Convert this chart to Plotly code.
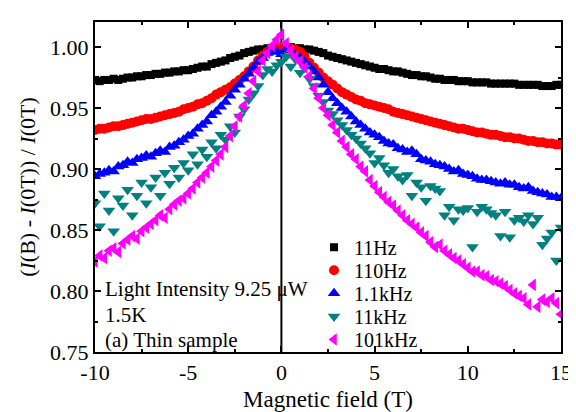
import plotly.graph_objects as go

field_T = [
    -10.00, -9.75, -9.50, -9.25, -9.00, -8.75, -8.50, -8.25, -8.00, -7.75,
    -7.50, -7.25, -7.00, -6.75, -6.50, -6.25, -6.00, -5.75, -5.50, -5.25,
    -5.00, -4.75, -4.50, -4.25, -4.00, -3.75, -3.50, -3.25, -3.00, -2.75,
    -2.50, -2.25, -2.00, -1.75, -1.50, -1.25, -1.00, -0.75, -0.50, -0.25,
    0.00, 0.25, 0.50, 0.75, 1.00, 1.25, 1.50, 1.75, 2.00, 2.25,
    2.50, 2.75, 3.00, 3.25, 3.50, 3.75, 4.00, 4.25, 4.50, 4.75,
    5.00, 5.25, 5.50, 5.75, 6.00, 6.25, 6.50, 6.75, 7.00, 7.25,
    7.50, 7.75, 8.00, 8.25, 8.50, 8.75, 9.00, 9.25, 9.50, 9.75,
    10.00, 10.25, 10.50, 10.75, 11.00, 11.25, 11.50, 11.75, 12.00, 12.25,
    12.50, 12.75, 13.00, 13.25, 13.50, 13.75, 14.00, 14.25, 14.50, 14.75,
    15.00,
]

ratio_11Hz = [
    0.973, 0.972, 0.973, 0.973, 0.974, 0.973, 0.974, 0.975, 0.975, 0.976,
    0.976, 0.977, 0.977, 0.978, 0.978, 0.979, 0.979, 0.980, 0.980, 0.981,
    0.981, 0.982, 0.983, 0.984, 0.984, 0.986, 0.987, 0.988, 0.989, 0.991,
    0.992, 0.993, 0.995, 0.996, 0.997, 0.998, 0.998, 0.999, 0.999, 1.000,
    1.000, 1.000, 1.000, 0.999, 0.999, 0.998, 0.998, 0.997, 0.996, 0.995,
    0.993, 0.992, 0.991, 0.990, 0.989, 0.988, 0.987, 0.986, 0.985, 0.984,
    0.983, 0.982, 0.982, 0.981, 0.980, 0.980, 0.979, 0.978, 0.977, 0.977,
    0.976, 0.976, 0.975, 0.974, 0.974, 0.973, 0.973, 0.973, 0.972, 0.972,
    0.972, 0.971, 0.971, 0.971, 0.971, 0.970, 0.970, 0.970, 0.970, 0.970,
    0.970, 0.969, 0.969, 0.969, 0.969, 0.969, 0.968, 0.968, 0.968, 0.969,
    0.969,
]

ratio_110Hz = [
    0.932, 0.933, 0.933, 0.934, 0.935, 0.935, 0.936, 0.937, 0.938, 0.939,
    0.940, 0.941, 0.941, 0.942, 0.943, 0.944, 0.945, 0.946, 0.947, 0.949,
    0.950, 0.951, 0.953, 0.954, 0.956, 0.958, 0.961, 0.963, 0.965, 0.967,
    0.970, 0.973, 0.976, 0.980, 0.984, 0.989, 0.993, 0.996, 0.999, 1.000,
    1.000, 1.000, 0.999, 0.998, 0.996, 0.992, 0.987, 0.983, 0.979, 0.975,
    0.972, 0.969, 0.966, 0.963, 0.961, 0.959, 0.957, 0.956, 0.954, 0.953,
    0.952, 0.951, 0.950, 0.949, 0.947, 0.946, 0.945, 0.944, 0.943, 0.942,
    0.941, 0.940, 0.939, 0.938, 0.937, 0.936, 0.935, 0.934, 0.933, 0.933,
    0.932, 0.931, 0.930, 0.930, 0.929, 0.928, 0.928, 0.927, 0.926, 0.926,
    0.925, 0.925, 0.924, 0.923, 0.923, 0.922, 0.922, 0.921, 0.921, 0.920,
    0.920,
]

ratio_1_1kHz = [
    0.894, 0.896, 0.897, 0.899, 0.898, 0.902, 0.903, 0.906, 0.905, 0.908,
    0.909, 0.911, 0.910, 0.913, 0.915, 0.914, 0.918, 0.919, 0.922, 0.924,
    0.927, 0.929, 0.933, 0.936, 0.939, 0.944, 0.947, 0.951, 0.955, 0.960,
    0.965, 0.969, 0.974, 0.978, 0.983, 0.988, 0.991, 0.995, 0.997, 0.996,
    0.994, 0.998, 0.997, 0.993, 0.991, 0.988, 0.984, 0.980, 0.975, 0.969,
    0.963, 0.958, 0.954, 0.950, 0.947, 0.943, 0.939, 0.936, 0.933, 0.930,
    0.928, 0.926, 0.923, 0.921, 0.920, 0.917, 0.916, 0.914, 0.915, 0.912,
    0.908, 0.907, 0.906, 0.904, 0.903, 0.902, 0.900, 0.898, 0.899, 0.896,
    0.895, 0.894, 0.892, 0.891, 0.891, 0.890, 0.889, 0.888, 0.889, 0.887,
    0.887, 0.885, 0.884, 0.885, 0.882, 0.881, 0.880, 0.879, 0.877, 0.877,
    0.876,
]

ratio_11kHz = [
    0.872, 0.853, 0.880, 0.866, 0.849, 0.876, 0.870, 0.883, 0.862, 0.878,
    0.889, 0.872, 0.885, 0.893, 0.878, 0.897, 0.888, 0.901, 0.893, 0.905,
    0.899, 0.912, 0.904, 0.916, 0.910, 0.922, 0.917, 0.928, 0.924, 0.935,
    0.930, 0.943, 0.949, 0.957, 0.962, 0.968, 0.977, 0.982, 0.980, 0.985,
    0.988, 0.992, 0.984, 0.990, 0.979, 0.983, 0.974, 0.968, 0.960, 0.955,
    0.948, 0.945, 0.940, 0.936, 0.932, 0.928, 0.925, 0.921, 0.917, 0.913,
    0.905, 0.909, 0.903, 0.897, 0.900, 0.894, 0.891, 0.895, 0.878, 0.889,
    0.885, 0.874, 0.886, 0.884, 0.882, 0.862, 0.869, 0.858, 0.867, 0.866,
    0.868, 0.836, 0.865, 0.869, 0.867, 0.864, 0.862, 0.845, 0.865, 0.844,
    0.858, 0.860, 0.857, 0.862, 0.855, 0.860, 0.838, 0.843, 0.848, 0.825,
    0.852,
]

ratio_101kHz = [
    0.824, 0.829, 0.827, 0.833, 0.835, 0.832, 0.839, 0.842, 0.845, 0.843,
    0.849, 0.852, 0.855, 0.858, 0.862, 0.860, 0.867, 0.871, 0.874, 0.876,
    0.880, 0.884, 0.889, 0.893, 0.897, 0.902, 0.907, 0.912, 0.918, 0.927,
    0.935, 0.943, 0.952, 0.962, 0.972, 0.980, 0.989, 0.995, 1.001, 1.006,
    1.010, 1.003, 0.997, 0.992, 0.988, 0.983, 0.976, 0.966, 0.958, 0.950,
    0.944, 0.936, 0.930, 0.923, 0.918, 0.912, 0.908, 0.902, 0.898, 0.891,
    0.886, 0.881, 0.877, 0.873, 0.870, 0.866, 0.862, 0.858, 0.855, 0.852,
    0.848, 0.845, 0.840, 0.836, 0.838, 0.833, 0.830, 0.827, 0.825, 0.822,
    0.819, 0.816, 0.816, 0.813, 0.812, 0.809, 0.808, 0.806, 0.804, 0.801,
    0.798, 0.796, 0.794, 0.789, 0.805, 0.787, 0.793, 0.791, 0.794, 0.790,
    0.781,
]

series_names = ["11Hz", "110Hz", "1.1kHz", "11kHz", "101kHz"]
x_tick_vals = [-10, -5, 0, 5, 10, 15]
x_tick_labels = ["-10", "-5", "0", "5", "10", "15"]
y_tick_vals = [0.75, 0.80, 0.85, 0.90, 0.95, 1.00]
y_tick_labels = ["0.75", "0.80", "0.85", "0.90", "0.95", "1.00"]

FONT = "Liberation Serif, Times New Roman, serif"

styles = [
    ("square", "#000000", 8),
    ("circle", "#FF0000", 10),
    ("triangle-up", "#0000FF", 11),
    ("triangle-down", "#008080", 11),
    ("triangle-left", "#FF00FF", 11),
]
series_values = [ratio_11Hz, ratio_110Hz, ratio_1_1kHz, ratio_11kHz, ratio_101kHz]
legend_ids = ["legend", "legend2", "legend3", "legend4", "legend5"]
legend_row_px = [247, 271, 295, 319, 343]

fig = go.Figure()
for name, vals, (sym, col, size), lid in zip(series_names, series_values, styles, legend_ids):
    fig.add_trace(go.Scatter(
        x=field_T, y=vals, mode="markers", name=name, legend=lid,
        marker=dict(symbol=sym, color=col, size=size, line=dict(width=0)),
    ))

fig.add_shape(type="line", xref="x", yref="paper", x0=0, x1=0, y0=0, y1=1,
              line=dict(color="black", width=2), layer="below")

axis_common = dict(
    showline=True, linecolor="black", linewidth=2, mirror="allticks",
    ticks="inside", ticklen=6, tickwidth=1.5, tickcolor="black",
    showgrid=False, zeroline=False,
    tickfont=dict(family=FONT, size=22, color="black"),
)

fig.update_xaxes(
    range=[-10, 15], tickvals=x_tick_vals, ticktext=x_tick_labels,
    minor=dict(ticks="inside", ticklen=3, tickwidth=1.5, tickcolor="black", dtick=2.5, showgrid=False),
    title=dict(text="Magnetic field (T)", font=dict(family=FONT, size=23, color="black"), standoff=6),
    **axis_common,
)
fig.update_yaxes(
    range=[0.75, 1.0205], tickvals=y_tick_vals, ticktext=y_tick_labels,
    minor=dict(ticks="inside", ticklen=3, tickwidth=1.5, tickcolor="black", dtick=0.025, tick0=0.75, showgrid=False),
    title=dict(text="(<i>I</i>(B) - <i>I</i>(0T)) / <i>I</i>(0T)", font=dict(family=FONT, size=22, color="black"), standoff=8),
    **axis_common,
)

for text, ypix in [("Light Intensity 9.25 \u03bcW", 291), ("1.5K", 318), ("(a) Thin sample", 344)]:
    fig.add_annotation(
        text=text, xref="paper", yref="paper", x=(95 - 87) / 472, y=1 - (ypix - 13) / 343,
        xanchor="left", yanchor="middle", showarrow=False,
        font=dict(family=FONT, size=21, color="black"),
    )

legend_layout = {}
for lid, ypix in zip(legend_ids, legend_row_px):
    legend_layout[lid] = dict(
        x=0.47, y=1 - (ypix - 13) / 343, xanchor="left", yanchor="middle",
        bgcolor="rgba(0,0,0,0)", borderwidth=0,
        font=dict(family=FONT, size=20, color="black"),
        itemwidth=30,
    )

fig.update_layout(
    width=576, height=412,
    margin=dict(l=87, r=17, t=13, b=56),
    paper_bgcolor="white", plot_bgcolor="white",
    showlegend=True,
    **legend_layout,
)

fig.write_html("out.html")
